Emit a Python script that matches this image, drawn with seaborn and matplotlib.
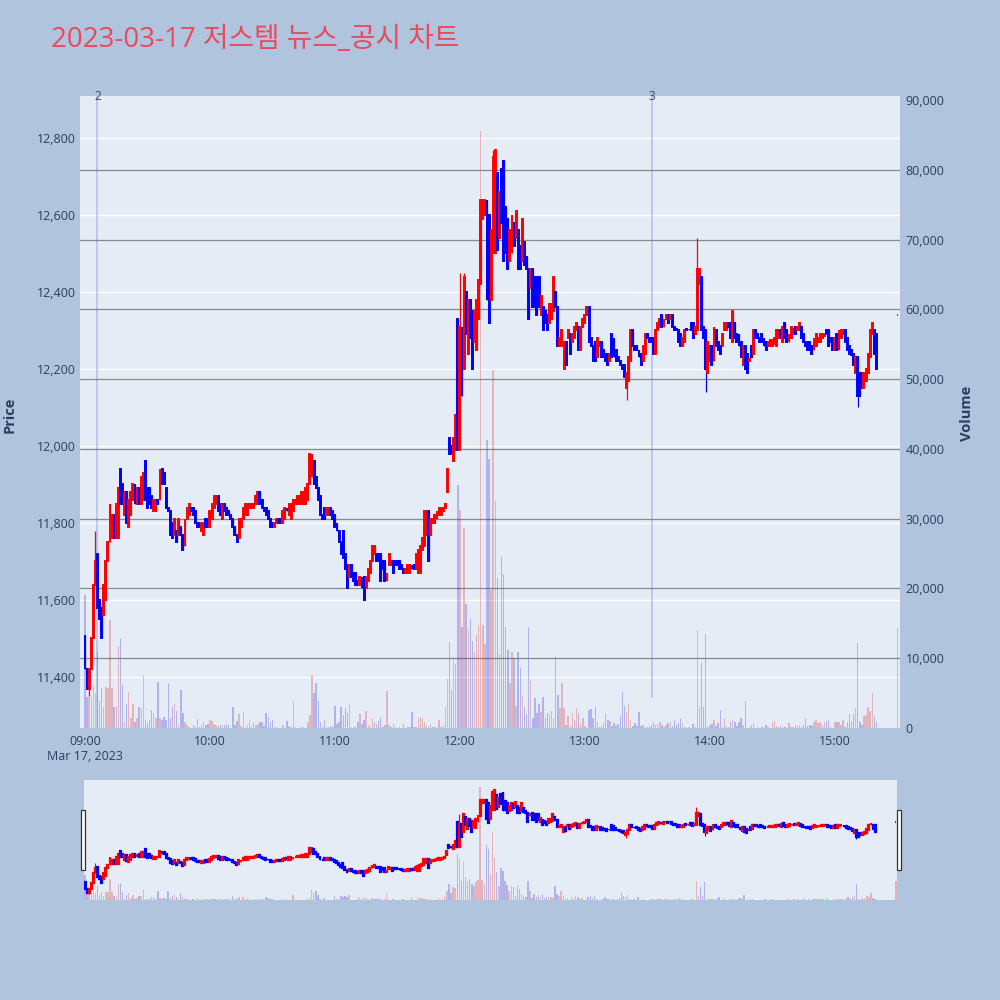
import numpy as np
import pandas as pd
import matplotlib
matplotlib.use("Agg")
import matplotlib.pyplot as plt
import seaborn as sns
from matplotlib.patches import Rectangle
from matplotlib.transforms import blended_transform_factory
from matplotlib.ticker import FuncFormatter

sns.set_theme(style="white")
plt.rcParams["font.family"] = ["Open Sans", "Noto Sans CJK KR", "DejaVu Sans"]

TITLE = "2023-03-17 저스템 뉴스_공시 차트"
DATE_LABEL = "Mar 17, 2023"
hour_labels = ["09:00", "10:00", "11:00", "12:00", "13:00", "14:00", "15:00"]
event_labels = ["2", "3"]
event_times = ["09:06", "13:32"]

# ---- 1-minute candles (open / close), 09:00 onwards ----
opens_a = [11510, 11420, 11370, 11420, 11500, 11640, 11720, 11600, 11580, 11560, 11600, 11700, 11750, 11760, 11820,
           11760, 11760, 11940, 11900, 11820, 11880, 11790, 11820, 11860, 11900, 11850, 11890, 11850, 11860, 11960,
           11890, 11890, 11870, 11830, 11830, 11860, 11860, 11940, 11930, 11890, 11840, 11830, 11800, 11770, 11780,
           11770, 11790, 11770, 11740, 11810, 11820, 11840, 11840, 11830, 11800, 11800, 11780]
closes_a = [11420, 11370, 11420, 11500, 11640, 11700, 11580, 11550, 11500, 11640, 11700, 11750, 11850, 11820, 11760,
            11850, 11890, 11850, 11850, 11880, 11800, 11860, 11880, 11900, 11850, 11890, 11850, 11920, 11930, 11860,
            11840, 11850, 11840, 11860, 11860, 11850, 11940, 11900, 11900, 11840, 11830, 11770, 11760, 11810, 11750,
            11810, 11770, 11730, 11810, 11840, 11850, 11830, 11820, 11800, 11790, 11790, 11800]

opens_b = [11770, 11810, 11810, 11790, 11810, 11840, 11850, 11870, 11850, 11810, 11850, 11840, 11830, 11820, 11810,
           11790, 11770, 11760, 11790, 11810, 11820, 11820, 11840, 11840, 11840, 11850, 11850, 11880, 11860, 11840,
           11840, 11830, 11810, 11800, 11790, 11800, 11810, 11810, 11800, 11810, 11840, 11820, 11810, 11830, 11850,
           11850, 11850, 11850, 11850, 11850, 11860, 11900, 11920, 11960, 11920, 11890, 11870, 11820]
closes_b = [11800, 11790, 11790, 11830, 11850, 11870, 11870, 11830, 11820, 11850, 11830, 11820, 11820, 11810, 11790,
            11770, 11750, 11810, 11810, 11840, 11850, 11850, 11850, 11850, 11850, 11870, 11880, 11850, 11840, 11830,
            11820, 11810, 11790, 11790, 11800, 11810, 11800, 11800, 11830, 11840, 11830, 11850, 11850, 11860, 11860,
            11870, 11870, 11880, 11880, 11890, 11900, 11980, 11980, 11900, 11890, 11860, 11820, 11810]

opens_c = [11840, 11820, 11820, 11840, 11830, 11820, 11800, 11780, 11750, 11780, 11720, 11690, 11660, 11690, 11670,
           11670, 11650, 11640, 11660, 11660, 11630, 11650, 11670, 11700, 11720, 11720, 11720, 11720, 11700, 11700,
           11650, 11690, 11690, 11700, 11700, 11700, 11700, 11690, 11680, 11670, 11670, 11670, 11690, 11690, 11680,
           11670, 11670, 11730, 11740, 11770, 11830, 11770, 11800, 11800, 11810, 11820, 11820, 11830, 11840]
closes_c = [11810, 11840, 11840, 11820, 11810, 11790, 11780, 11750, 11720, 11710, 11680, 11630, 11690, 11660, 11650,
            11640, 11640, 11660, 11630, 11600, 11660, 11680, 11700, 11740, 11740, 11700, 11700, 11650, 11680, 11650,
            11670, 11720, 11700, 11670, 11690, 11690, 11680, 11680, 11670, 11680, 11690, 11690, 11680, 11680, 11720,
            11730, 11740, 11760, 11830, 11830, 11700, 11810, 11810, 11820, 11830, 11840, 11840, 11840, 11850]

opens_d = [11880, 12020, 12000, 11960, 11990, 12330, 11990, 12310, 12200, 12400, 12240, 12380, 12350, 12270, 12250,
           12330, 12420, 12590, 12600, 12640, 12600, 12380, 12500, 12500, 12710, 12540, 12720, 12740, 12620, 12590,
           12480, 12500, 12580, 12540, 12560, 12520, 12480, 12530, 12490, 12460, 12410, 12460, 12440, 12440, 12440,
           12340, 12360, 12350, 12340, 12320, 12330, 12350, 12400, 12360, 12260, 12260, 12200, 12270]
closes_d = [11940, 11980, 11980, 12020, 12080, 11990, 12310, 12130, 12440, 12290, 12380, 12280, 12200, 12350, 12380,
            12430, 12640, 12640, 12640, 12380, 12320, 12560, 12750, 12770, 12510, 12660, 12580, 12480, 12500, 12460,
            12560, 12600, 12520, 12610, 12460, 12460, 12590, 12470, 12460, 12330, 12460, 12360, 12360, 12340, 12360,
            12390, 12300, 12320, 12300, 12370, 12370, 12440, 12360, 12260, 12280, 12300, 12270, 12210]

opens_e = [12280, 12290, 12270, 12280, 12300, 12310, 12250, 12310, 12320, 12340, 12360, 12280, 12260, 12270, 12230,
           12260, 12270, 12250, 12240, 12240, 12220, 12290, 12280, 12250, 12230, 12220, 12210, 12210, 12150, 12170,
           12220, 12300, 12260, 12260, 12250, 12240, 12220, 12240, 12290, 12280, 12280, 12280, 12240, 12300, 12310,
           12340, 12310, 12330, 12340, 12330, 12340, 12310, 12305, 12300, 12290, 12260, 12270]
closes_e = [12300, 12240, 12290, 12310, 12320, 12250, 12310, 12330, 12340, 12360, 12270, 12260, 12220, 12220, 12280,
            12270, 12230, 12230, 12220, 12210, 12240, 12230, 12230, 12220, 12220, 12210, 12200, 12180, 12190, 12230,
            12300, 12260, 12250, 12250, 12230, 12210, 12260, 12290, 12280, 12270, 12270, 12240, 12300, 12320, 12330,
            12310, 12330, 12340, 12320, 12340, 12310, 12300, 12300, 12270, 12260, 12280, 12300]

opens_f = [12305, 12300, 12320, 12320, 12290, 12300, 12420, 12440, 12310, 12300, 12190, 12220, 12260, 12220, 12300,
           12270, 12260, 12260, 12300, 12300, 12320, 12320, 12270, 12320, 12290, 12290, 12270, 12210, 12260, 12240,
           12220, 12260, 12240, 12300, 12290, 12280, 12290, 12280, 12270, 12260, 12260, 12260, 12265, 12260, 12280,
           12300, 12270, 12320, 12300, 12270, 12280, 12290, 12310, 12300, 12300, 12310, 12290, 12270]
closes_f = [12300, 12305, 12300, 12280, 12310, 12460, 12460, 12300, 12280, 12200, 12270, 12260, 12210, 12310, 12260,
            12250, 12240, 12290, 12320, 12320, 12310, 12280, 12350, 12280, 12270, 12260, 12230, 12260, 12200, 12190,
            12225, 12230, 12300, 12280, 12280, 12270, 12270, 12260, 12250, 12270, 12275, 12275, 12280, 12300, 12300,
            12280, 12310, 12280, 12270, 12290, 12310, 12305, 12290, 12310, 12320, 12280, 12270, 12260]

opens_g = [12270, 12270, 12260, 12250, 12260, 12270, 12270, 12280, 12285, 12300, 12300, 12280, 12280, 12250, 12290,
           12250, 12280, 12290, 12300, 12280, 12260, 12250, 12240, 12190, 12230, 12190, 12190, 12150, 12170, 12190,
           12230, 12290, 12300, 12290]
closes_g = [12250, 12250, 12240, 12280, 12290, 12280, 12290, 12290, 12290, 12290, 12260, 12270, 12250, 12280, 12250,
            12300, 12300, 12300, 12270, 12250, 12240, 12235, 12210, 12230, 12130, 12130, 12150, 12190, 12200, 12240,
            12300, 12320, 12240, 12200]

# wick extremes (candle index -> price)
wick_high = {5: 11780, 180: 12450, 182: 12450, 196: 12770, 294: 12540}
wick_low = {2: 11350, 134: 11600, 179: 11990, 260: 12120, 298: 12140, 371: 12100}

# ---- volume per minute, in thousands of shares ----
vol_09 = [19, 4.5, 4.5, 4.5, 6, 5, 10.9, 3.8, 5.7, 3, 5.9, 5.7, 15.5, 5.7, 3, 3, 11.7, 12.9, 6.2, 0.9,
          3.5, 5.2, 1.4, 3.5, 0.9, 1.4, 3, 2.8, 7.6, 1.1, 0.7, 1.1, 2.6, 2.1, 1.4, 6.6, 1.4, 1.1, 1.6, 1.1,
          6.5, 1.4, 3, 3.4, 2.5, 0.4, 5.4, 2.2, 0.9, 0.4, 0.2, 0, 0.4, 0.2, 1.3, 0.2, 0.4, 0.9, 0.4, 0.6]
vol_10 = [1.1, 1, 0.6, 0.4, 0.3, 0.4, 0.4, 0.5, 0.6, 0.5, 0, 3, 0.4, 1, 2, 0.3, 2.3, 0.2, 0.4, 1.1,
          0.3, 0.9, 0.4, 0.6, 0.8, 0.8, 0.3, 2.1, 1.6, 0.8, 1.1, 0.3, 0.1, 0, 0, 0.4, 0, 1, 0.3, 0.2,
          3.8, 0.1, 0, 0, 0.3, 0.1, 0, 0.9, 1.8, 7.6, 5, 6.5, 3.8, 0.9, 0.2, 1.2, 0.2, 0.1, 0.3, 0.1]
vol_11 = [3.1, 0.6, 0.9, 3, 1.9, 2.8, 2.1, 3.4, 0.2, 0.1, 0.3, 0.8, 2, 0.6, 1.2, 2.5, 0.4, 0.3, 1.4, 0.9,
          0.6, 1, 1.6, 0.2, 0.4, 5.3, 0.4, 0.2, 0.6, 0.2, 0, 0.1, 0, 0.6, 0, 0.2, 0.1, 2.3, 0.2, 0.1,
          1.6, 1.6, 1.5, 0.8, 0.4, 0.2, 0.6, 0.1, 0.1, 0, 1.2, 0.2, 0.4, 3, 7, 12.3, 5.4, 10, 9.2, 34.8]
vol_12 = [31.3, 14.5, 28.6, 17.7, 14.2, 15.6, 12.4, 10.9, 13.3, 14.8, 85.5, 14.8, 12, 41.3, 38.6, 19.8, 51.3, 32.5,
          21.5, 10.6, 24.5, 22, 14.5, 11.2, 6.5, 10.9, 10, 3.2, 10.9, 8.6, 4.7, 3, 2, 14.5, 6.8, 1.5, 4.3, 2.2,
          3.4, 2.3, 4.4, 1.5, 2.1, 2, 2.4, 1.5, 10.2, 4.7, 2.8, 6.5, 2.9, 0.5, 1.7, 0.3, 2.2, 1.2, 2.8, 2.1, 0.7, 1.4]
vol_13 = [0.3, 0, 2.6, 2.7, 1.4, 3, 0.9, 0.2, 0.3, 0.7, 2, 1.1, 1, 0.3, 0.7, 0.3, 0.6, 1.7, 5.1, 3.2,
          2.3, 3.4, 1, 0.3, 0.7, 0.3, 2.3, 0.3, 0.4, 0.1, 0.2, 0.3, 0.5, 0.9, 0.5, 0.6, 0.9, 0.5, 0.2, 0.4,
          0.7, 0.8, 0.3, 1.1, 0.5, 0.7, 1.4, 0.7, 0.1, 0, 0.1, 0, 0.6, 0.1, 14, 3, 9.5, 3, 13.5, 0.3]
vol_14 = [0.4, 0.6, 1.1, 0.3, 0.7, 2.6, 0.2, 1.5, 0.3, 0.2, 0.8, 1.1, 0.8, 0.3, 0.8, 1.4, 0.5, 3.9, 0, 0.1,
          0.4, 0.7, 0, 0.1, 0, 0.2, 0, 0.4, 0.1, 0, 0.9, 1, 0.3, 0.2, 0.3, 0.3, 0.1, 0, 0.7, 0.1,
          0.1, 0.4, 0.3, 0.4, 0.2, 0.4, 1.4, 0.3, 0.4, 0.3, 0.9, 1.1, 0.7, 0.8, 0.4, 0.9, 1, 1.2, 0.2, 0]
vol_15 = [0.8, 0.9, 0.8, 0.4, 1.1, 0.2, 0.9, 2, 0.8, 2, 2.9, 12.2, 0.9, 0.4, 1.7, 1.8, 3, 2.4, 5, 1.7, 0.8]

# closing auction (15:30)
auction_time = "15:30"
auction_price = 12340
auction_volume = 14.3

# ---- assemble ----
opens = opens_a + opens_b + opens_c + opens_d + opens_e + opens_f + opens_g
closes = closes_a + closes_b + closes_c + closes_d + closes_e + closes_f + closes_g
vols = vol_09 + vol_10 + vol_11 + vol_12 + vol_13 + vol_14 + vol_15
assert len(opens) == len(closes) == len(vols), (len(opens), len(closes), len(vols))


def to_min(hhmm):
    h, m = hhmm.split(":")
    return (int(h) - 9) * 60 + int(m)


minutes = list(range(len(opens))) + [to_min(auction_time)]
opens = opens + [auction_price]
closes = closes + [auction_price]
vols = vols + [auction_volume]

df = pd.DataFrame({"minute": minutes, "open": opens, "close": closes,
                   "volume": np.array(vols) * 1000})
df["high"] = df[["open", "close"]].max(axis=1)
df["low"] = df[["open", "close"]].min(axis=1)
for k, v in wick_high.items():
    df.loc[k, "high"] = max(df.loc[k, "high"], v)
for k, v in wick_low.items():
    df.loc[k, "low"] = min(df.loc[k, "low"], v)
df["dir"] = np.where(df["close"] >= df["open"], "up", "down")

UP, DOWN = "#FF0000", "#0000FF"
PALETTE = {"up": UP, "down": DOWN}
BG = "#B0C4DE"
PLOT_BG = "#E5ECF6"
TXT = "#2a3f5f"
GRID_V = "#8a8a8a"

PRICE_LIM = (11267.5, 12909)
VOL_LIM = (0, 90573)


def draw_panel(ax_vol, ax_px, body_w, body_lw, wick_lw, bar_w):
    sns.barplot(data=df, x="minute", y="volume", hue="dir", palette=PALETTE,
                hue_order=["up", "down"], native_scale=True, dodge=False,
                width=bar_w, alpha=0.27, linewidth=0, errorbar=None,
                legend=False, ax=ax_vol)
    cols = df["dir"].map(PALETTE)
    ax_px.vlines(df["minute"], df["low"], df["high"], colors=cols, lw=wick_lw, zorder=3)
    ax_px.bar(df["minute"], df["close"] - df["open"], bottom=df["open"], width=body_w,
              color=cols, edgecolor=cols, linewidth=body_lw, zorder=4)
    ax_vol.set_ylim(*VOL_LIM)
    ax_px.set_ylim(*PRICE_LIM)
    for a in (ax_vol, ax_px):
        for s in a.spines.values():
            s.set_visible(False)
        a.set_xlabel("")
        a.set_ylabel("")


fig = plt.figure(figsize=(10, 10), dpi=100, facecolor=BG)

# ---------- main chart ----------
ax_vol = fig.add_axes([0.080, 0.272, 0.820, 0.632], facecolor=PLOT_BG)
ax_px = ax_vol.twinx()
ax_vol.set_zorder(1)
ax_px.set_zorder(2)
ax_px.patch.set_visible(False)

price_ticks = list(range(11400, 12801, 200))
vol_ticks = list(range(0, 90001, 10000))

# gridlines (under everything)
tr_price = blended_transform_factory(ax_vol.transAxes, ax_px.transData)
for p in price_ticks:
    ax_vol.plot([0, 1], [p, p], transform=tr_price, color="white", lw=1.0, zorder=0.3)
for v in vol_ticks[1:-1]:
    ax_vol.axhline(v, color=GRID_V, lw=0.9, zorder=0.4)

draw_panel(ax_vol, ax_px, body_w=0.45, body_lw=1.4, wick_lw=0.9, bar_w=0.7)

ax_vol.set_xlim(-2.4, 391.3)
ax_vol.yaxis.tick_right()
ax_px.yaxis.tick_left()
ax_vol.set_yticks(vol_ticks)
ax_px.set_yticks(price_ticks)
fmt = FuncFormatter(lambda v, _: f"{int(round(v)):,}")
ax_vol.yaxis.set_major_formatter(fmt)
ax_px.yaxis.set_major_formatter(fmt)
ax_vol.set_xticks([to_min(h) for h in hour_labels])
ax_vol.set_xticklabels([hour_labels[0] + "\n" + DATE_LABEL] + hour_labels[1:])
ax_vol.tick_params(axis="x", length=0, pad=5, labelsize=9, colors=TXT)
ax_vol.tick_params(axis="y", length=0, pad=4, labelsize=9, colors=TXT,
                   labelright=True, labelleft=False)
ax_px.tick_params(axis="y", length=0, pad=3, labelsize=9, colors=TXT,
                  labelleft=True, labelright=False)
ax_px.tick_params(axis="x", bottom=False, labelbottom=False)
ax_vol.grid(False)
ax_px.grid(False)

# event lines
tr_ev = blended_transform_factory(ax_px.transData, ax_px.transAxes)
for lab, t in zip(event_labels, event_times):
    m = to_min(t)
    ymin = 0.0 if lab == "2" else 0.049
    ax_px.axvline(m, ymin=ymin, ymax=1.0, color="#4169E1", alpha=0.3, lw=1.3, zorder=2)
    ax_px.text(m, 1.0, lab, transform=tr_ev, ha="center", va="center",
               fontsize=8.5, color="#444444", zorder=6, clip_on=False)

# titles
fig.text(0.051, 0.960, TITLE, ha="left", va="center", fontsize=20, color="#E84A5F",
         family=["Open Sans", "Noto Sans CJK KR"])
fig.text(0.010, 0.585, "Price", rotation=90, ha="center", va="center",
         fontsize=10.5, fontweight="bold", color=TXT)
fig.text(0.967, 0.587, "Volume", rotation=90, ha="center", va="center",
         fontsize=10.5, fontweight="bold", color=TXT)

# ---------- range slider ----------
rs_vol = fig.add_axes([0.084, 0.100, 0.813, 0.120], facecolor=PLOT_BG)
rs_px = rs_vol.twinx()
rs_px.patch.set_visible(False)
draw_panel(rs_vol, rs_px, body_w=0.45, body_lw=1.6, wick_lw=0.8, bar_w=0.7)
rs_vol.set_xlim(-0.5, 390.5)
for a in (rs_vol, rs_px):
    a.set_xticks([])
    a.set_yticks([])
    a.grid(False)

for x0 in (0.0807, 0.8965):
    fig.add_artist(Rectangle((x0, 0.130), 0.0040, 0.060, transform=fig.transFigure,
                             facecolor="white", edgecolor="#333333", lw=0.9))

fig.savefig("out.png", dpi=100, facecolor=BG)
